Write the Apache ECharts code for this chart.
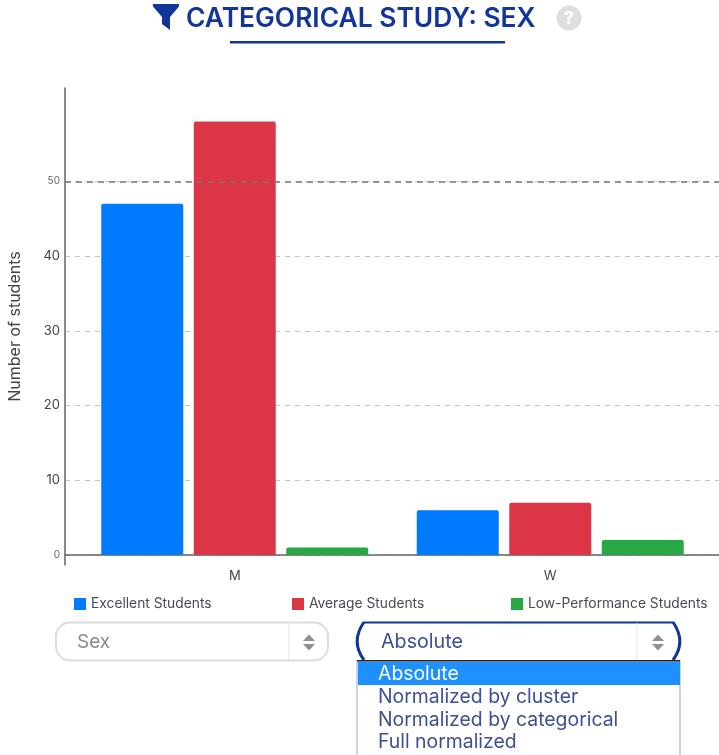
<!DOCTYPE html>
<html><head><meta charset="utf-8">
<style>html,body{margin:0;padding:0;background:#fff}#c{width:719px;height:755px}</style>
<script src="https://cdn.jsdelivr.net/npm/echarts@6/dist/echarts.min.js"></script></head>
<body><div id="c"></div>
<script>
const categories = ['M', 'W'];
const excellent = [47, 6];
const average = [58, 7];
const lowPerf = [1, 2];
const yTicks = [0, 10, 20, 30, 40, 50];
const threshold = [50];
const titleText = 'CATEGORICAL STUDY: SEX';
const FONT = 'Inter';
const NAVY = '#12359a';
const optionRows = [['Absolute', 674], ['Normalized by cluster', 697.5], ['Normalized by categorical', 720], ['Full normalized', 742.5]];

const yBase = { type: 'value', min: -1.34, max: 62.5, interval: 10 };
const legendText = { fontFamily: FONT, fontSize: 13.8, color: '#4a4a55' };
function legendAt(name, left) {
  return { data: [name], left: left, top: 592, itemWidth: 12, itemHeight: 12, itemGap: 4, icon: 'rect', textStyle: legendText, selectedMode: false };
}
function arrows(x) {
  return [
    { type: 'polygon', shape: { points: [[x - 6, 641], [x + 6, 641], [x, 634.5]] }, style: { fill: '#8f8f8f' } },
    { type: 'polygon', shape: { points: [[x - 6, 644], [x + 6, 644], [x, 650.5]] }, style: { fill: '#8f8f8f' } }
  ];
}
const graphicEls = [
  { type: 'polygon', shape: { points: [[153, 4], [179, 4], [179, 6.5], [170, 17], [170, 30], [162, 24], [162, 17], [153, 6.5]] }, style: { fill: NAVY } },
  { type: 'text', style: { x: 186, y: 19.5, text: titleText, fontFamily: FONT, fontWeight: 600, fontSize: 26.4, fill: NAVY, textVerticalAlign: 'middle' } },
  { type: 'rect', shape: { x: 230, y: 41, width: 275, height: 2.5 }, style: { fill: NAVY } },
  { type: 'circle', shape: { cx: 569, cy: 18, r: 12.5 }, style: { fill: '#dedede' } },
  { type: 'text', style: { x: 569, y: 18.5, text: '?', fontFamily: 'Inter', fontWeight: 800, fontSize: 18, fill: '#fff', textAlign: 'center', textVerticalAlign: 'middle' } },
  { type: 'rect', shape: { x: 56, y: 622.5, width: 272, height: 38, r: 14 }, style: { fill: '#fff', stroke: '#dcdcdc', lineWidth: 2 } },
  { type: 'line', shape: { x1: 289, y1: 623, x2: 289, y2: 660 }, style: { stroke: '#e4e4e4', lineWidth: 1 } },
  { type: 'text', style: { x: 77, y: 642, text: 'Sex', fontFamily: FONT, fontSize: 19, fill: '#8a8a8a', textVerticalAlign: 'middle' } }
].concat(arrows(309)).concat([
  { type: 'line', shape: { x1: 364, y1: 622.5, x2: 673, y2: 622.5 }, style: { stroke: NAVY, lineWidth: 2 } },
  { type: 'bezierCurve', shape: { x1: 364, y1: 622, cpx1: 355, cpy1: 635, cpx2: 355, cpy2: 648, x2: 364, y2: 660 }, style: { fill: 'none', stroke: NAVY, lineWidth: 3 } },
  { type: 'bezierCurve', shape: { x1: 673, y1: 622, cpx1: 682, cpy1: 635, cpx2: 682, cpy2: 648, x2: 673, y2: 660 }, style: { fill: 'none', stroke: NAVY, lineWidth: 3 } },
  { type: 'line', shape: { x1: 637, y1: 623, x2: 637, y2: 660 }, style: { stroke: '#e4e4e4', lineWidth: 1 } },
  { type: 'text', style: { x: 381, y: 642.5, text: 'Absolute', fontFamily: FONT, fontSize: 19.7, fill: '#3d4f96', textVerticalAlign: 'middle' } }
]).concat(arrows(658)).concat([
  { type: 'rect', shape: { x: 357, y: 661, width: 323, height: 96 }, style: { fill: '#fff', stroke: '#b7c6e6', lineWidth: 1.5 } },
  { type: 'rect', shape: { x: 357, y: 660, width: 323, height: 1.5 }, style: { fill: '#222' } },
  { type: 'rect', shape: { x: 358, y: 662, width: 322, height: 23 }, style: { fill: '#1e90ff' } }
]).concat(optionRows.map((r, i) => ({
  type: 'text', style: { x: 378, y: r[1], text: r[0], fontFamily: FONT, fontSize: 19.4, fill: i === 0 ? '#fff' : '#3d4f96', textVerticalAlign: 'middle' }
})));

const chart = echarts.init(document.getElementById('c'));
chart.setOption({
  animation: false,
  textStyle: { fontFamily: FONT },
  grid: [
    { left: 65, top: 88, width: 654, height: 477, outerBoundsMode: 'none' },
    { left: 77, top: 88, width: 631, height: 477, outerBoundsMode: 'none' }
  ],
  xAxis: [
    { gridIndex: 0, type: 'value', min: 0, max: 1, axisLine: { onZero: true, lineStyle: { color: '#666', width: 1.5 } }, axisTick: { show: false }, axisLabel: { show: false }, splitLine: { show: false } },
    { gridIndex: 1, type: 'category', data: categories, axisLine: { show: false, onZero: true }, axisTick: { show: false }, axisLabel: { margin: 5, fontFamily: FONT, fontSize: 13, color: '#444' } }
  ],
  yAxis: [
    Object.assign({ gridIndex: 0, name: 'Number of students', nameLocation: 'middle', nameGap: 42, nameTextStyle: { fontFamily: FONT, fontSize: 16, color: '#444' },
      axisLine: { show: true, onZero: false, lineStyle: { color: '#666', width: 1.5 } },
      axisTick: { show: false, customValues: yTicks },
      axisLabel: { margin: 5, customValues: yTicks, fontFamily: FONT, formatter: v => (v === 0 || v === 50) ? '{s|' + v + '}' : '{b|' + v + '}',
        rich: { s: { fontSize: 10, color: '#666', fontFamily: FONT }, b: { fontSize: 13, color: '#444', fontFamily: FONT } } },
      splitLine: { show: true, lineStyle: { color: '#c4c4c4', type: [5, 5], width: 1 } } }, yBase),
    Object.assign({ gridIndex: 1, show: false, splitLine: { show: false } }, yBase)
  ],
  legend: [legendAt('Excellent Students', 69), legendAt('Average Students', 287), legendAt('Low-Performance Students', 506)],
  series: [
    { type: 'line', xAxisIndex: 0, yAxisIndex: 0, data: [], silent: true, z: 1, tooltip: { show: false },
      markLine: { silent: true, symbol: 'none', animation: false, label: { show: false }, lineStyle: { color: '#777', type: [6, 5], width: 1.5 }, data: threshold.map(v => ({ yAxis: v })) } },
    { name: 'Excellent Students', type: 'bar', xAxisIndex: 1, yAxisIndex: 1, data: excellent, barWidth: 82, barGap: '12.8%', z: 3, itemStyle: { color: '#007bff', borderRadius: [2, 2, 0, 0] } },
    { name: 'Average Students', type: 'bar', xAxisIndex: 1, yAxisIndex: 1, data: average, barWidth: 82, barGap: '12.8%', z: 3, itemStyle: { color: '#dc3545', borderRadius: [2, 2, 0, 0] } },
    { name: 'Low-Performance Students', type: 'bar', xAxisIndex: 1, yAxisIndex: 1, data: lowPerf, barWidth: 82, barGap: '12.8%', z: 3, itemStyle: { color: '#28a745', borderRadius: [2, 2, 0, 0] } }
  ],
  graphic: { elements: graphicEls.map(e => Object.assign({ silent: true, z: 10 }, e)) }
});
</script></body></html>
